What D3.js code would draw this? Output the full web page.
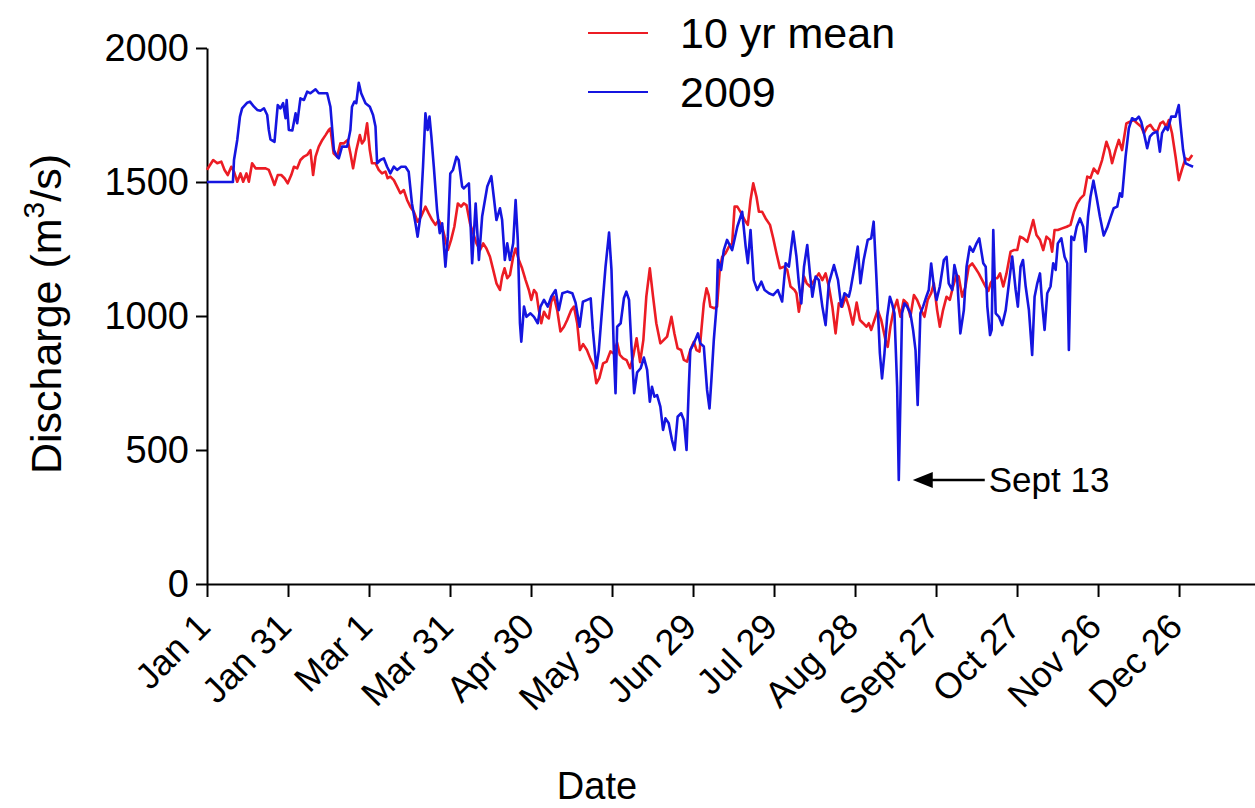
<!DOCTYPE html>
<html>
<head>
<meta charset="utf-8">
<script src="https://cdn.jsdelivr.net/npm/d3@7"></script>
<style>
  html, body { margin: 0; padding: 0; background: #fff; }
  svg { display: block; font-family: "Liberation Sans", Arial, sans-serif; }
</style>
</head>
<body>
<svg id="chart"></svg>
<script>
// x tick labels, one every 30 days starting Jan 1 (day 0)
const tickDays = [0, 30, 60, 90, 120, 150, 180, 210, 240, 270, 300, 330, 360];
const tickLabels = ['Jan 1', 'Jan 31', 'Mar 1', 'Mar 31', 'Apr 30', 'May 30', 'Jun 29',
  'Jul 29', 'Aug 28', 'Sept 27', 'Oct 27', 'Nov 26', 'Dec 26'];
const yTicks = [0, 500, 1000, 1500, 2000];

// 10 yr mean discharge (day of year, m3/s)
const meanDays = [0, 0.7, 2.3, 3.8, 5.3, 6.5, 7.7, 9.0, 10.0, 11.2, 12.4, 13.4, 14.6, 15.5, 16.7, 18.0, 19.8, 21.7,
  22.9, 24.1, 25.0, 26.2, 27.5, 28.7, 29.9, 31.2, 32.2, 33.4, 34.6, 35.9, 37.1, 38.3, 39.3, 40.2, 41.4, 42.7, 43.9,
  45.1, 45.7, 46.9, 48.2, 49.4, 50.6, 52.1, 53.1, 54.1, 55.3, 56.6, 57.4, 58.3, 59.3, 60.3, 61.1, 62.4, 63.6, 64.8,
  66.1, 66.9, 67.9, 69.2, 70.4, 71.6, 72.9, 74.1, 75.3, 76.6, 78.0, 79.3, 80.9, 82.1, 83.4, 84.6, 85.8, 87.1, 88.3,
  89.2, 90.4, 91.6, 92.9, 94.1, 95.1, 96.1, 97.4, 98.6, 99.8, 101.1, 102.3, 103.5, 104.8, 106.0, 107.2, 108.5, 109.3,
  110.2, 111.2, 112.2, 113.4, 114.3, 115.5, 116.7, 118.0, 119.2, 120.1, 121.1, 122.0, 122.9, 123.8, 124.8, 125.8,
  126.6, 127.5, 128.5, 129.7, 130.9, 132.2, 133.4, 134.9, 135.9, 137.1, 138.1, 139.3, 140.7, 142.0, 143.2, 144.2,
  145.3, 146.7, 148.0, 149.4, 150.6, 151.9, 152.9, 154.1, 155.4, 156.7, 157.9, 159.1, 160.4, 161.6, 162.7, 164.0,
  165.2, 166.4, 167.9, 169.2, 170.4, 172.0, 173.1, 174.3, 175.6, 176.6, 177.8, 179.0, 180.3, 181.3, 182.4, 183.1,
  184.0, 185.0, 185.8, 186.4, 187.9, 188.9, 189.9, 190.8, 192.0, 193.3, 194.5, 195.4, 196.4, 197.9, 199.1, 200.3,
  201.3, 202.3, 203.5, 204.4, 205.6, 206.9, 208.5, 209.7, 210.9, 212.2, 213.7, 214.9, 216.1, 217.6, 218.3, 219.2,
  220.1, 221.1, 222.1, 223.3, 224.2, 225.4, 226.6, 227.9, 229.1, 230.3, 231.6, 232.8, 234.0, 235.3, 236.5, 237.7,
  239.2, 240.6, 241.8, 243.0, 244.2, 245.1, 246.0, 247.2, 248.4, 249.7, 251.3, 252.1, 253.1, 254.3, 255.6, 256.8,
  258.0, 259.3, 260.5, 261.8, 263.0, 264.5, 265.7, 266.9, 268.2, 269.2, 270.4, 271.4, 272.6, 273.9, 275.1, 276.3,
  277.6, 278.4, 279.7, 280.9, 282.1, 283.4, 284.6, 285.8, 287.1, 288.3, 289.4, 290.2, 291.4, 292.7, 293.7, 294.9,
  296.1, 297.6, 298.8, 300.1, 301.1, 302.3, 303.8, 305.0, 306.0, 307.2, 308.5, 309.7, 310.9, 312.2, 313.0, 313.9,
  315.1, 316.7, 318.4, 319.8, 321.1, 322.3, 323.5, 324.8, 326.0, 327.2, 328.4, 329.9, 331.5, 333.1, 334.2, 335.2,
  336.5, 337.7, 338.9, 340.5, 341.8, 343.2, 344.5, 346.0, 347.0, 348.2, 349.4, 350.7, 351.9, 353.1, 354.1, 355.3,
  356.2, 357.4, 358.7, 359.9, 361.2, 362.4, 363.6, 364.9];
const meanFlow = [1545, 1557, 1582, 1570, 1576, 1545, 1526, 1557, 1539, 1501, 1532, 1501, 1532, 1501, 1570, 1551, 1551, 1551,
  1545, 1514, 1489, 1526, 1526, 1514, 1495, 1526, 1557, 1551, 1582, 1595, 1601, 1619, 1526, 1595, 1632, 1657, 1675,
  1694, 1700, 1607, 1594, 1644, 1644, 1657, 1607, 1551, 1619, 1675, 1644, 1657, 1719, 1619, 1570, 1570, 1545, 1532,
  1539, 1514, 1520, 1507, 1483, 1458, 1470, 1433, 1408, 1389, 1352, 1371, 1408, 1383, 1358, 1340, 1358, 1333, 1284,
  1246, 1284, 1333, 1420, 1408, 1420, 1414, 1346, 1308, 1271, 1246, 1271, 1252, 1221, 1172, 1122, 1097, 1147,
  1178, 1141, 1153, 1221, 1252, 1209, 1178, 1134, 1097, 1060, 1097, 1085, 1022, 973, 1016, 998,
  991, 1054, 1072, 1022, 942, 960, 985, 1022, 1035, 973, 873, 895, 873, 840, 815, 749,
  768, 823, 830, 868, 860, 900, 855, 842, 835, 805, 852, 917, 828, 910, 1072, 1178,
  1072, 973, 898, 911, 923, 997, 935, 879, 873, 836, 830, 873, 904, 873, 867, 948,
  1047, 1103, 1078, 1035, 1029, 1035, 1172, 1221, 1234, 1259, 1271, 1408, 1408, 1383, 1358, 1340,
  1433, 1495, 1445, 1389, 1389, 1364, 1340, 1290, 1234, 1178, 1184, 1172, 1110, 1097, 1085, 1016,
  1072, 1147, 1122, 1110, 1122, 1141, 1159, 1134, 1159, 1110, 1035, 935, 1047, 1035, 1072, 1035,
  968, 1050, 985, 973, 960, 973, 948, 985, 1022, 985, 910, 885, 960, 1022, 1060, 997,
  1060, 1047, 997, 1078, 1060, 1022, 997, 1060, 1085, 1122, 1022, 960, 1022, 1072, 1060, 1110,
  1153, 1147, 1072, 1110, 1184, 1196, 1178, 1159, 1134, 1110, 1094, 1122, 1141, 1141, 1159, 1110,
  1159, 1240, 1246, 1246, 1296, 1290, 1277, 1321, 1358, 1302, 1284, 1246, 1296, 1284, 1240, 1321,
  1321, 1327, 1333, 1340, 1389, 1420, 1439, 1452, 1520, 1515, 1550, 1532, 1582, 1650, 1619, 1570,
  1619, 1657, 1619, 1719, 1725, 1731, 1719, 1706, 1682, 1706, 1713, 1694, 1688, 1719, 1725, 1706,
  1731, 1682, 1595, 1507, 1551, 1588, 1582, 1601];

// 2009 discharge (day of year, m3/s)
const obsDays = [0, 9.6, 10.0, 11.2, 12.2, 13.0, 14.9, 15.9, 17.4, 18.6, 19.8, 21.1, 22.3, 22.9, 23.5, 25.0, 26.2, 27.2,
  28.2, 29.1, 29.5, 30.3, 31.6, 32.8, 33.4, 34.6, 35.9, 37.1, 38.3, 40.2, 41.4, 44.5, 45.7, 46.4, 47.0, 48.2, 48.8,
  50.0, 51.9, 53.1, 53.7, 54.6, 55.3, 56.2, 57.1, 58.7, 60.3, 61.5, 62.4, 63.0, 64.2, 65.5, 66.7, 67.9, 69.2, 70.4,
  71.9, 73.5, 74.7, 75.9, 77.2, 78.0, 79.0, 80.0, 80.9, 81.7, 82.4, 83.1, 84.0, 85.2, 86.2, 87.1, 88.3, 89.2, 90.1,
  91.1, 92.4, 93.2, 94.5, 95.1, 97.0, 98.2, 99.5, 100.7, 101.9, 103.8, 105.3, 106.2, 107.2, 108.5, 109.3, 110.3,
  111.2, 112.2, 113.4, 114.3, 115.1, 115.9, 116.4, 117.4, 118.3, 119.8, 121.1, 122.5, 123.5, 124.8, 126.2, 127.5,
  129.1, 130.3, 131.6, 133.4, 135.3, 136.5, 138.0, 139.2, 140.8, 142.1, 142.9, 144.2, 145.1, 146.4, 147.6, 148.9,
  149.8, 150.7, 151.3, 151.9, 153.2, 154.4, 155.3, 156.3, 157.2, 158.2, 159.3, 160.6, 161.8, 163.0, 164.0, 164.8,
  165.7, 166.7, 167.9, 168.9, 169.8, 171.0, 172.2, 173.2, 174.3, 175.6, 176.6, 177.6, 178.4, 179.0, 180.3, 181.8,
  182.7, 184.0, 185.2, 186.1, 186.8, 187.7, 188.7, 189.2, 190.4, 191.4, 192.6, 194.5, 196.4, 198.2, 199.5, 200.3,
  201.3, 202.5, 203.8, 205.3, 206.5, 208.1, 209.7, 211.4, 213.0, 214.3, 215.5, 217.1, 218.3, 219.2, 220.1, 221.1,
  222.3, 223.3, 224.2, 225.4, 226.6, 227.9, 229.1, 230.3, 232.2, 233.7, 234.9, 236.1, 237.7, 238.3, 239.8, 241.0,
  242.0, 243.2, 244.7, 246.0, 246.9, 247.9, 249.2, 250.0, 250.9, 251.9, 252.9, 253.7, 254.6, 255.6, 256.2, 256.8,
  257.4, 258.3, 259.3, 260.5, 261.5, 262.4, 263.2, 264.2, 265.2, 266.4, 267.3, 268.2, 269.2, 270.2, 271.4, 272.9,
  273.9, 274.7, 276.0, 276.8, 277.8, 279.0, 280.3, 281.3, 282.5, 283.7, 285.0, 286.0, 287.5, 288.4, 289.0, 290.0,
  290.6, 291.2, 292.1, 293.3, 294.5, 295.8, 297.0, 298.2, 299.5, 300.3, 301.3, 302.2, 303.2, 304.4, 305.6, 306.5,
  307.5, 308.5, 309.3, 310.2, 311.2, 312.4, 313.4, 314.3, 315.1, 316.4, 317.6, 318.6, 319.2, 320.1, 321.1, 322.1,
  323.3, 324.5, 325.4, 326.3, 327.2, 328.3, 329.5, 330.7, 332.1, 333.4, 334.7, 335.8, 337.1, 338.1, 338.9, 340.2,
  341.4, 342.6, 343.9, 345.1, 346.0, 347.0, 348.2, 349.2, 350.4, 351.9, 352.9, 353.7, 355.0, 355.8, 357.1, 358.7,
  359.9, 360.5, 361.5, 362.4, 363.6, 365.2];
const obsFlow = [1500, 1500, 1582, 1657, 1744, 1775, 1796, 1800, 1781, 1769, 1766, 1775, 1750, 1694, 1659, 1650, 1787, 1775,
  1794, 1738, 1806, 1694, 1692, 1756, 1719, 1812, 1806, 1837, 1831, 1846, 1831, 1831, 1781, 1694, 1619, 1594, 1588,
  1632, 1632, 1694, 1781, 1800, 1794, 1870, 1831, 1794, 1781, 1750, 1707, 1570, 1582, 1588, 1557, 1532, 1557, 1545,
  1557, 1557, 1538, 1420, 1346, 1296, 1370, 1557, 1756, 1694, 1744, 1669, 1557, 1396, 1309, 1346, 1184, 1296, 1532,
  1545, 1594, 1582, 1483, 1476, 1495, 1197, 1420, 1209, 1371, 1483, 1522, 1445, 1358, 1402, 1358, 1209,
  1271, 1209, 1271, 1433, 1284, 973, 904, 1035, 997, 1010, 997, 973, 1035, 1060, 1035, 1072,
  1097, 1022, 1085, 1091, 1085, 1050, 960, 1053, 1060, 1066, 948, 805, 870, 1035, 1184, 1311,
  1172, 861, 712, 960, 973, 1066, 1091, 1060, 886, 712, 790, 805, 845, 799, 680, 736,
  699, 705, 662, 575, 618, 600, 537, 500, 624, 637, 612, 500, 724, 873, 898, 935,
  898, 886, 724, 655, 761, 911, 1035, 1209, 1172, 1246, 1284, 1246, 1333, 1389, 1259, 1197,
  1321, 1134, 1097, 1128, 1097, 1085, 1078, 1097, 1054, 1197, 1184, 1315, 1222, 1122, 1047, 1184,
  1265, 1159, 1072, 1147, 1134, 1035, 966, 1122, 1190, 1134, 1035, 1085, 1072, 1097, 1184, 1259,
  1122, 1209, 1284, 1290, 1352, 1147, 861, 767, 861, 997, 1072, 1047, 1010, 736, 388, 686,
  1010, 1047, 1035, 1010, 948, 873, 668, 1010, 1035, 1072, 1097, 1196, 1110, 1060, 1110, 1209,
  1221, 1122, 1097, 1190, 1147, 935, 1022, 1184, 1259, 1240, 1271, 1290, 1197, 1184, 1035, 929,
  948, 1321, 1010, 997, 966, 1022, 1122, 1222, 1097, 1035, 1184, 1209, 1110, 1022, 855, 1072,
  1122, 1159, 1047, 948, 1085, 1110, 1197, 1172, 1271, 1290, 1221, 1197, 873, 1296, 1284, 1333,
  1364, 1333, 1240, 1371, 1445, 1505, 1440, 1370, 1300, 1330, 1370, 1402, 1408, 1458, 1445, 1595,
  1700, 1738, 1731, 1744, 1725, 1682, 1626, 1669, 1682, 1688, 1613, 1682, 1706, 1694, 1744, 1744,
  1787, 1719, 1619, 1570, 1564, 1557];

const annotationDay = 256.2;
const annotationValue = 388;

const width = 1255;
const height = 808;
const redColor = '#ec1c24';
const blueColor = '#1515e0';

const svg = d3.select('#chart')
  .attr('width', width)
  .attr('height', height);

const x = d3.scaleLinear()
  .domain([0, 388.5])
  .range([207, 1256]);

const y = d3.scaleLinear()
  .domain([0, 2000])
  .range([584, 48]);

const mean = meanDays.map((d, i) => [d, meanFlow[i]]);
const obs = obsDays.map((d, i) => [d, obsFlow[i]]);

const line = d3.line()
  .x(d => x(d[0]))
  .y(d => y(d[1]));

// axes
const xAxis = svg.append('g')
  .attr('transform', `translate(0, ${y(0)})`)
  .call(d3.axisBottom(x)
    .tickValues(tickDays)
    .tickFormat((d, i) => tickLabels[i])
    .tickSize(13)
    .tickSizeOuter(0));

xAxis.selectAll('text')
  .attr('font-size', 36)
  .attr('fill', '#000')
  .attr('text-anchor', 'end')
  .attr('dy', '0.35em')
  .attr('y', 0)
  .attr('transform', 'translate(-4, 36) rotate(-45)');

const yAxis = svg.append('g')
  .attr('transform', `translate(${x(0)}, 0)`)
  .call(d3.axisLeft(y)
    .tickValues(yTicks)
    .tickFormat(d3.format('d'))
    .tickSize(11)
    .tickPadding(7)
    .tickSizeOuter(0));

yAxis.selectAll('text')
  .attr('font-size', 38)
  .attr('fill', '#000');

svg.selectAll('.domain, .tick line')
  .attr('stroke', '#000')
  .attr('stroke-width', 2);

// series
svg.append('path')
  .datum(mean)
  .attr('fill', 'none')
  .attr('stroke', redColor)
  .attr('stroke-width', 2.6)
  .attr('stroke-linejoin', 'round')
  .attr('d', line);

svg.append('path')
  .datum(obs)
  .attr('fill', 'none')
  .attr('stroke', blueColor)
  .attr('stroke-width', 2.6)
  .attr('stroke-linejoin', 'round')
  .attr('d', line);

// axis titles
svg.append('text')
  .attr('transform', 'translate(61, 314) rotate(-90)')
  .attr('text-anchor', 'middle')
  .attr('font-size', 43)
  .html('Discharge (m<tspan dy="-17" font-size="30">3</tspan><tspan dy="17">/s)</tspan>');

svg.append('text')
  .attr('x', 597)
  .attr('y', 799)
  .attr('text-anchor', 'middle')
  .attr('font-size', 38)
  .text('Date');

// legend
const legend = [
  { label: '10 yr mean', color: redColor, y: 33 },
  { label: '2009', color: blueColor, y: 92 }
];
const lg = svg.selectAll('.legend')
  .data(legend)
  .enter().append('g')
  .attr('class', 'legend')
  .attr('transform', d => `translate(588, ${d.y})`);
lg.append('line')
  .attr('x1', 0).attr('x2', 60)
  .attr('stroke', d => d.color)
  .attr('stroke-width', 2);
lg.append('text')
  .attr('x', 92)
  .attr('y', 15)
  .attr('font-size', 43)
  .text(d => d.label);

// Sept 13 annotation
const ax = x(annotationDay) + 14;
const ay = y(annotationValue);
svg.append('line')
  .attr('x1', ax + 14).attr('x2', ax + 72)
  .attr('y1', ay).attr('y2', ay)
  .attr('stroke', '#000')
  .attr('stroke-width', 2.5);
svg.append('path')
  .attr('d', `M${ax},${ay} L${ax + 20},${ay - 8} L${ax + 20},${ay + 8} Z`)
  .attr('fill', '#000');
svg.append('text')
  .attr('x', ax + 76)
  .attr('y', ay + 12)
  .attr('font-size', 35)
  .text('Sept 13');
</script>
</body>
</html>
